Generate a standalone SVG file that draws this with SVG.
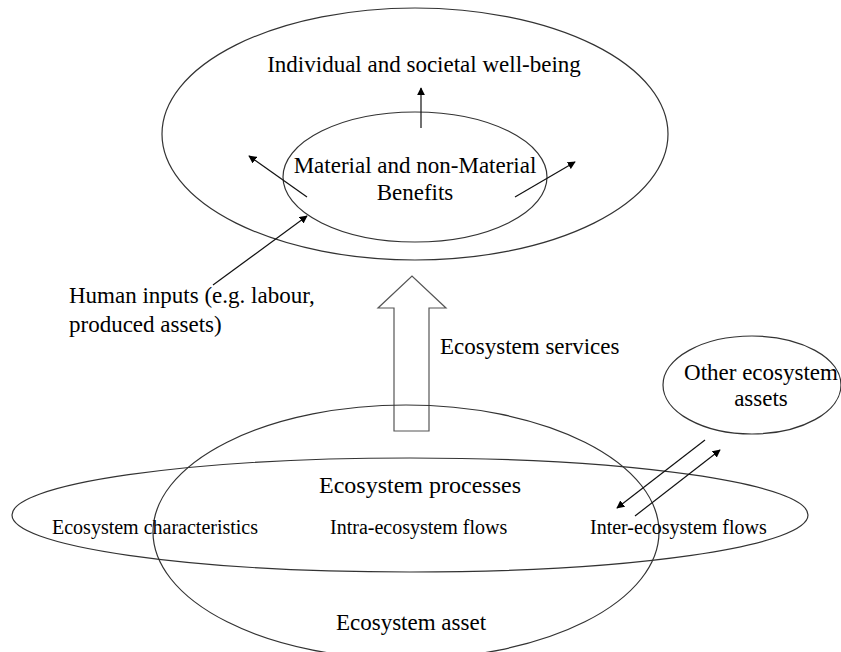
<svg xmlns="http://www.w3.org/2000/svg" width="841" height="652" viewBox="0 0 841 652">
<defs>
<marker id="ah" viewBox="0 0 10 10" refX="9" refY="5" markerWidth="8" markerHeight="8" markerUnits="userSpaceOnUse" orient="auto">
<path d="M0,0 L10,5 L0,10 z" fill="#000"/>
</marker>
</defs>
<style>
.el{fill:none;stroke:#333;stroke-width:1.2}
.t{font-family:"Liberation Serif","Times New Roman",serif;fill:#000}
.big{font-size:23px}
.sm{font-size:20px}
.ar{stroke:#111;stroke-width:1.2;fill:none;marker-end:url(#ah)}
</style>
<rect width="841" height="652" fill="#fff"/>
<g id="wellbeing">
<ellipse class="el" cx="415" cy="134" rx="253" ry="126"/>
<text class="t big" x="424" y="72" text-anchor="middle">Individual and societal well-being</text>
</g>
<g id="benefits">
<ellipse class="el" cx="415" cy="177" rx="132" ry="65"/>
<text class="t big" x="415" y="173" text-anchor="middle">Material and non-Material</text>
<text class="t big" x="415" y="200" text-anchor="middle">Benefits</text>
</g>
<g id="human-inputs">
<text class="t big" x="69" y="303">Human inputs (e.g. labour,</text>
<text class="t big" x="69" y="332">produced assets)</text>
</g>
<g id="services">
<path d="M394,431 L394,308 L378,308 L412,276 L446,308 L429,308 L429,431 Z" fill="#fff" stroke="#555" stroke-width="1.2"/>
<text class="t big" x="440" y="354">Ecosystem services</text>
</g>
<g id="other-assets">
<ellipse class="el" cx="752" cy="385" rx="89" ry="49"/>
<text class="t big" x="761" y="380" text-anchor="middle">Other ecosystem</text>
<text class="t big" x="761" y="406" text-anchor="middle">assets</text>
</g>
<g id="asset">
<ellipse class="el" cx="406" cy="532" rx="253" ry="127"/>
<text class="t big" x="411" y="630" text-anchor="middle">Ecosystem asset</text>
</g>
<g id="processes">
<ellipse class="el" cx="410" cy="515" rx="398" ry="57"/>
<text class="t" style="font-size:24px" x="420" y="493" text-anchor="middle">Ecosystem processes</text>
<text class="t sm" x="52" y="534">Ecosystem characteristics</text>
<text class="t sm" x="330" y="534">Intra-ecosystem flows</text>
<text class="t sm" x="590" y="534">Inter-ecosystem flows</text>
</g>
<g id="connectors">
<line class="ar" x1="421" y1="128" x2="421" y2="88"/>
<line class="ar" x1="307" y1="197" x2="249" y2="156"/>
<line class="ar" x1="515" y1="197" x2="575" y2="162"/>
<line class="ar" x1="213" y1="285" x2="307" y2="216"/>
<line class="ar" x1="705" y1="440" x2="617" y2="508"/>
<line class="ar" x1="635" y1="516" x2="720" y2="450"/>
</g>
</svg>
